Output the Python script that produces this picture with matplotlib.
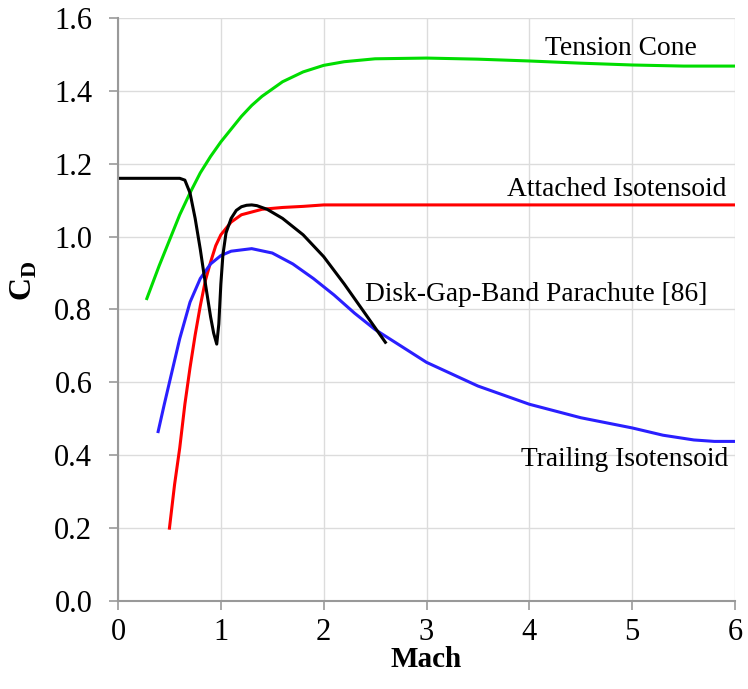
import matplotlib
matplotlib.use('Agg')
import matplotlib.pyplot as plt

plt.rcParams['font.family'] = ['Liberation Serif', 'DejaVu Serif']
plt.rcParams['mathtext.fontset'] = 'custom'
plt.rcParams['mathtext.rm'] = 'Liberation Serif'
plt.rcParams['mathtext.bf'] = 'Liberation Serif:bold'

# Tension Cone
tc_x = [0.28, 0.4, 0.5, 0.6, 0.7, 0.8, 0.9, 1.0, 1.1, 1.2, 1.3, 1.4, 1.6, 1.8,
        2.0, 2.2, 2.5, 3.0, 3.5, 4.0, 4.5, 5.0, 5.5, 6.0]
tc_y = [0.83, 0.92, 0.99, 1.06, 1.12, 1.175, 1.22, 1.26, 1.295, 1.33, 1.36, 1.385,
        1.425, 1.452, 1.47, 1.48, 1.488, 1.49, 1.487, 1.482, 1.476, 1.471, 1.468, 1.468]

# Attached Isotensoid
ai_x = [0.5, 0.55, 0.6, 0.65, 0.7, 0.75, 0.8, 0.85, 0.9, 0.95, 1.0, 1.1, 1.2,
        1.4, 1.6, 1.8, 2.0, 3.0, 4.0, 5.0, 6.0]
ai_y = [0.2, 0.32, 0.42, 0.54, 0.64, 0.73, 0.81, 0.88, 0.93, 0.975, 1.005, 1.04,
        1.06, 1.075, 1.08, 1.083, 1.087, 1.087, 1.087, 1.087, 1.087]

# Trailing Isotensoid
ti_x = [0.39, 0.45, 0.5, 0.6, 0.7, 0.8, 0.9, 1.0, 1.1, 1.3, 1.5, 1.7, 1.9, 2.1,
        2.3, 2.5, 2.75, 3.0, 3.5, 4.0, 4.5, 5.0, 5.3, 5.6, 5.8, 6.0]
ti_y = [0.465, 0.54, 0.6, 0.72, 0.82, 0.885, 0.925, 0.948, 0.96, 0.967, 0.955,
        0.925, 0.885, 0.84, 0.79, 0.745, 0.7, 0.655, 0.59, 0.54, 0.503, 0.475,
        0.455, 0.442, 0.438, 0.438]

# Disk-Gap-Band Parachute [86]
dgb_x = [0.0, 0.6, 0.65, 0.7, 0.75, 0.8, 0.85, 0.9, 0.93, 0.96, 0.98, 1.0, 1.02,
         1.05, 1.1, 1.15, 1.2, 1.25, 1.3, 1.35, 1.45, 1.6, 1.8, 2.0, 2.2, 2.4, 2.6]
dgb_y = [1.16, 1.16, 1.155, 1.12, 1.05, 0.965, 0.87, 0.78, 0.735, 0.705, 0.76,
         0.87, 0.95, 1.01, 1.05, 1.072, 1.082, 1.086, 1.087, 1.085, 1.075, 1.05,
         1.005, 0.945, 0.87, 0.79, 0.71]

fig = plt.figure(figsize=(7.48, 6.89), dpi=100)
ax = fig.add_axes([0.1578, 0.1277, 0.8248, 0.8462])

lw = 2.2
ax.plot(tc_x, tc_y, color='#00dd00', lw=lw)
ax.plot(ai_x, ai_y, color='#ff0000', lw=lw)
ax.plot(ti_x, ti_y, color='#2a1fff', lw=lw)
ax.plot(dgb_x, dgb_y, color='black', lw=lw)

fs = 19.8
ax.text(4.15, 1.515, 'Tension Cone', fontsize=fs, ha='left', va='center')
ax.text(3.78, 1.13, 'Attached Isotensoid', fontsize=fs, ha='left', va='center')
ax.text(2.40, 0.84, 'Disk-Gap-Band Parachute [86]', fontsize=fs, ha='left', va='center')
ax.text(3.92, 0.387, 'Trailing Isotensoid', fontsize=fs, ha='left', va='center')

ax.set_xlim(0, 6)
ax.set_ylim(0, 1.6)
ax.set_xticks(range(0, 7))
ax.set_yticks([0.0, 0.2, 0.4, 0.6, 0.8, 1.0, 1.2, 1.4, 1.6])
ax.set_yticklabels(['0.0', '0.2', '0.4', '0.6', '0.8', '1.0', '1.2', '1.4', '1.6'])
ax.grid(True, color='#dcdcdc', lw=1)
ax.set_axisbelow(True)

for s in ['top', 'right']:
    ax.spines[s].set_visible(False)
for s in ['left', 'bottom']:
    ax.spines[s].set_color('#999999')
    ax.spines[s].set_linewidth(1.5)

ax.tick_params(axis='both', labelsize=22, color='#999999', width=1.2, length=6.5)
ax.tick_params(axis='y', pad=12)
ax.tick_params(axis='x', pad=6)

ax.set_xlabel('Mach', fontsize=21, fontweight='bold')
ax.xaxis.set_label_coords(0.5, -0.077)
ax.text(-0.152, 0.55, r'$\mathbf{C}_\mathbf{D}$', fontsize=23, rotation=90,
        ha='center', va='center', transform=ax.transAxes)

fig.savefig('out.png', dpi=100)
